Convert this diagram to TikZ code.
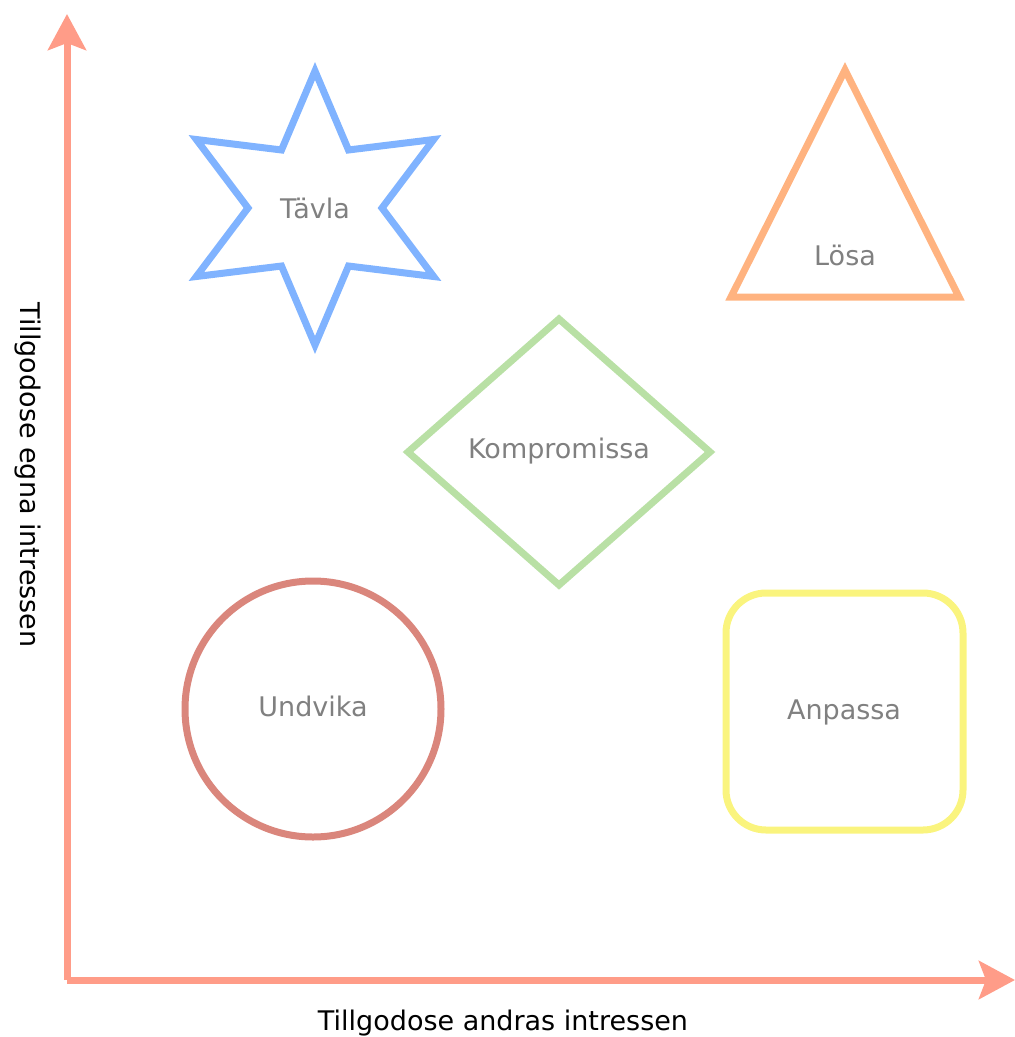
\documentclass[tikz,border=0pt]{standalone}
\usepackage{fontspec}
\setmainfont{DejaVu Sans}
\usetikzlibrary{arrows.meta}
\definecolor{axiscol}{HTML}{FF9C88}
\definecolor{starcol}{HTML}{80B3FF}
\definecolor{tricol}{HTML}{FFB380}
\definecolor{diacol}{HTML}{B9E0A5}
\definecolor{circcol}{HTML}{DA867C}
\definecolor{sqcol}{HTML}{FAF47E}
\definecolor{labelgray}{HTML}{808080}
\begin{document}
\begin{tikzpicture}[x=1pt,y=-1pt,
  axisline/.style={draw=axiscol,line width=7pt,
    -{Stealth[length=36pt,width=38pt,inset=7pt]}},
  shapeline/.style={line width=7pt,line join=miter},
  shapetext/.style={text=labelgray,font=\fontsize{27}{32}\selectfont,inner sep=0pt},
  axistext/.style={text=black,font=\fontsize{27}{32}\selectfont,inner sep=0pt}]
\useasboundingbox (0,0) rectangle (1015,1037);
% axes
\coordinate (origin) at (67,980);
\coordinate (ytip) at (67,14);
\coordinate (xtip) at (1015,980);
\draw[axisline] (origin) -- (ytip);
\draw[axisline] (origin) -- (xtip);
\node[axistext,rotate=-90] (ylab) at (28,475) {Tillgodose egna intressen};
\node[axistext] (xlab) at (503,1023) {Tillgodose andras intressen};
% star
\begin{scope}[shift={(315,208)}]
\draw[shapeline,draw=starcol] (90:137) -- (120:67) -- (150:137) -- (180:67) -- (210:137) -- (240:67)
  -- (270:137) -- (300:67) -- (330:137) -- (0:67) -- (30:137) -- (60:67) -- cycle;
\end{scope}
\node[shapetext] (tavla) at (315,208) {Tävla};
% triangle
\draw[shapeline,draw=tricol] (845,70) -- (959,297) -- (731,297) -- cycle;
\node[shapetext] (losa) at (845,255) {Lösa};
% diamond
\draw[shapeline,draw=diacol] (559,319) -- (710,452) -- (559,585) -- (408,452) -- cycle;
\node[shapetext] (komp) at (559,451) {Kompromissa};
% circle
\draw[shapeline,draw=circcol] (313,709) circle[radius=128];
\node[shapetext] (undv) at (313,706) {Undvika};
% rounded square
\draw[shapeline,draw=sqcol,rounded corners=40pt] (726,593) rectangle (963,830);
\node[shapetext] (anp) at (844,712) {Anpassa};
\end{tikzpicture}
\end{document}
